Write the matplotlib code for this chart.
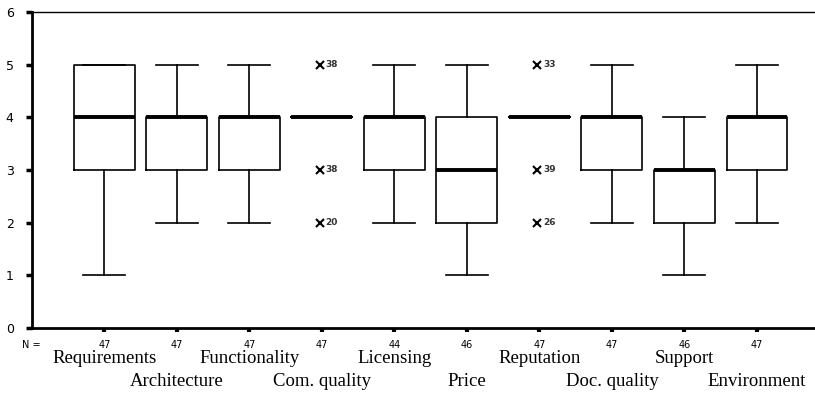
import numpy as np
import matplotlib.pyplot as plt

categories = ['Requirements', 'Architecture', 'Functionality', 'Com. quality', 'Licensing',
              'Price', 'Reputation', 'Doc. quality', 'Support', 'Environment']
counts = [47, 47, 47, 47, 44, 46, 47, 47, 46, 47]
whislo = [1, 2, 2, 4, 2, 1, 4, 2, 1, 2]
q1 = [3, 3, 3, 4, 3, 2, 4, 3, 2, 3]
med = [4, 4, 4, 4, 4, 3, 4, 4, 3, 4]
q3 = [5, 4, 4, 4, 4, 4, 4, 4, 3, 4]
whishi = [5, 5, 5, 4, 5, 5, 4, 5, 4, 5]
fliers = [[], [], [], [5, 3, 2], [], [], [5, 3, 2], [], [], []]
flier_labels = [[], [], [], ['38', '38', '20'], [], [], ['33', '39', '26'], [], [], []]

fig = plt.figure(figsize=(8.15, 3.96), dpi=100)
ax = fig.add_axes([0.039, 0.172, 0.961, 0.798])

stats = []
for i in range(len(categories)):
    stats.append(dict(whislo=whislo[i], q1=q1[i], med=med[i], q3=q3[i],
                      whishi=whishi[i], fliers=fliers[i]))

pos = np.arange(1, len(categories) + 1)
ax.bxp(stats, positions=pos, widths=0.84, showfliers=False,
       boxprops=dict(color='black', linewidth=1.2),
       medianprops=dict(color='black', linewidth=2.8),
       whiskerprops=dict(color='black', linewidth=1.2),
       capprops=dict(color='black', linewidth=1.2),
       capwidths=0.58)

# outliers with case labels
for i in range(len(categories)):
    for v, lab in zip(fliers[i], flier_labels[i]):
        ax.plot(pos[i] - 0.03, v, marker='x', color='black', markersize=6, mew=1.5)
        ax.text(pos[i] + 0.05, v, lab, fontsize=6.5, fontweight='bold',
                color='#333333', va='center', ha='left')

ax.set_xlim(0, 10.8)
ax.set_ylim(0, 6)
ax.set_yticks(range(7))
ax.set_yticklabels([str(v) for v in range(7)], fontsize=9)
ax.tick_params(axis='y', length=4, width=2.5, pad=9)
ax.set_xticks(pos)
ax.set_xticklabels([])
ax.tick_params(axis='x', direction='out', length=3, width=3)

ax.spines['right'].set_visible(False)
ax.spines['left'].set_linewidth(2)
ax.spines['bottom'].set_linewidth(2)
ax.spines['top'].set_linewidth(1)

tr = ax.get_xaxis_transform()
ax.text(0.0, -0.054, 'N =', transform=tr, fontsize=7, ha='center', va='center')
for i, n in enumerate(counts):
    ax.text(pos[i], -0.054, str(n), transform=tr, fontsize=7, ha='center', va='center')
    y = -0.098 if i % 2 == 0 else -0.171
    ax.text(pos[i], y, categories[i], transform=tr, fontsize=13.5,
            family='Liberation Serif', ha='center', va='center')

fig.savefig('out.png', dpi=100)
